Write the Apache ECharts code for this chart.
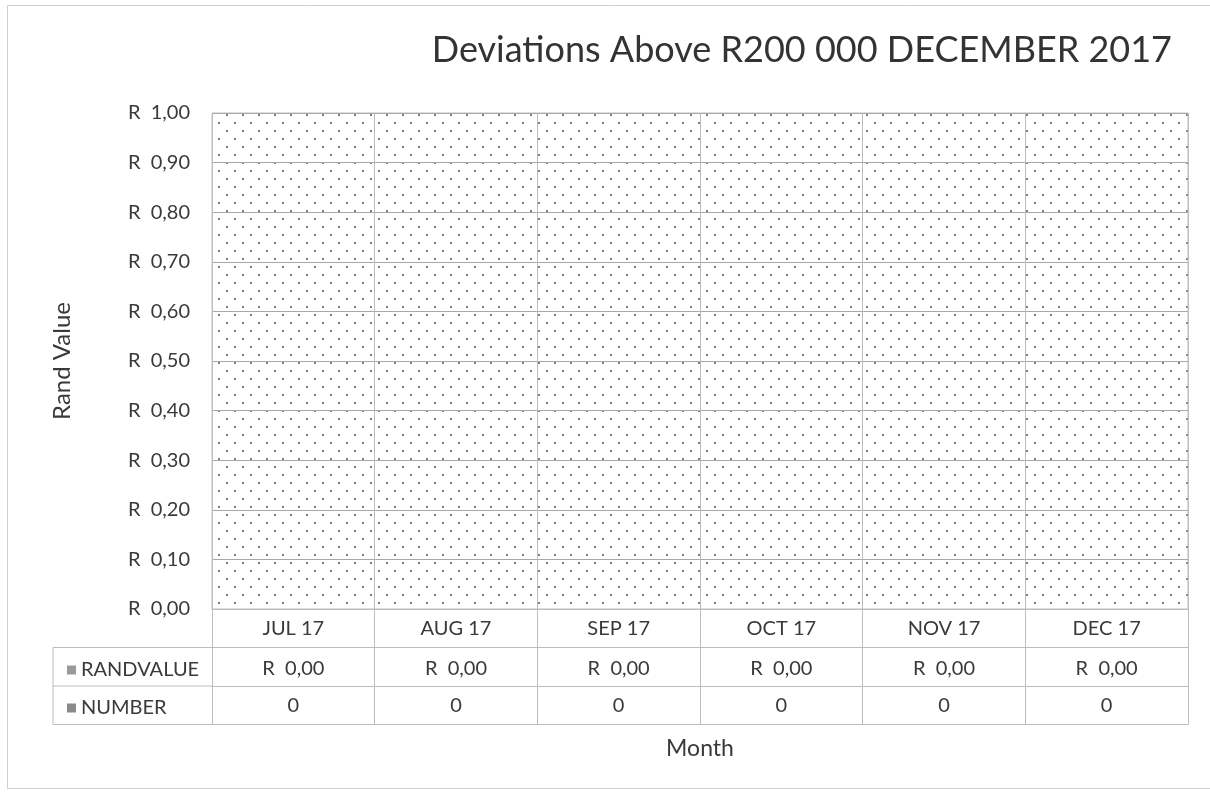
<!DOCTYPE html>
<html>
<head>
<meta charset="utf-8">
<title>Deviations Above R200 000 DECEMBER 2017</title>
<script src="https://cdn.jsdelivr.net/npm/echarts@6/dist/echarts.min.js"></script>
<style>
  html, body {
    margin: 0;
    padding: 0;
    background: #ffffff;
  }
  #chart {
    width: 1210px;
    height: 792px;
  }
</style>
</head>
<body>
<div id="chart"></div>
<script>
  // data
  const months = ['JUL 17', 'AUG 17', 'SEP 17', 'OCT 17', 'NOV 17', 'DEC 17'];
  const randValue = [0, 0, 0, 0, 0, 0];
  const number = [0, 0, 0, 0, 0, 0];

  const FONT = 'Lato';
  const TXT = '#3a3a3a';
  const LINE = '#bdbdbd';

  function rand(v) {
    return 'R  ' + v.toFixed(2).replace('.', ',');
  }

  // dotted fill of the plot area
  function dotPattern() {
    const c = document.createElement('canvas');
    c.width = 16;
    c.height = 16;
    const ctx = c.getContext('2d');
    ctx.fillStyle = '#ffffff';
    ctx.fillRect(0, 0, 16, 16);
    ctx.fillStyle = '#555555';
    ctx.beginPath();
    ctx.arc(3, 3, 1, 0, Math.PI * 2);
    ctx.arc(11, 11, 1, 0, Math.PI * 2);
    ctx.fill();
    return c;
  }

  const myChart = echarts.init(document.getElementById('chart'));

  const plotTop = 113, plotBottom = 609, plotLeft = 212, plotRight = 1188;
  const rowH = 38.5;

  myChart.setOption({
    backgroundColor: '#ffffff',
    animation: false,
    title: {
      text: 'Deviations Above R200 000 DECEMBER 2017',
      right: 33,
      top: 27,
      textStyle: {
        fontFamily: FONT,
        fontWeight: 'normal',
        fontSize: 36,
        color: '#333333'
      }
    },
    legend: {
      orient: 'vertical',
      left: 62,
      top: 655,
      itemWidth: 9,
      itemHeight: 9,
      itemGap: 18,
      icon: 'rect',
      textStyle: {
        fontFamily: FONT,
        fontSize: 20,
        lineHeight: 20,
        color: TXT
      },
      data: ['RANDVALUE', 'NUMBER']
    },
    grid: {
      left: plotLeft,
      right: 1210 - plotRight,
      top: plotTop,
      bottom: 792 - plotBottom,
      show: true,
      borderColor: LINE,
      borderWidth: 1,
      backgroundColor: {image: dotPattern(), repeat: 'repeat'}
    },
    xAxis: [{
      type: 'category',
      data: months,
      position: 'bottom',
      axisLine: {lineStyle: {color: LINE}},
      axisTick: {show: true, length: rowH * 3, interval: 0, lineStyle: {color: LINE}},
      splitLine: {show: true, interval: 0, lineStyle: {color: LINE}},
      axisLabel: {
        interval: 0,
        margin: 10,
        fontFamily: FONT,
        fontSize: 20,
        color: TXT
      }
    }, {
      type: 'category',
      data: months,
      position: 'bottom',
      offset: rowH,
      axisLine: {lineStyle: {color: LINE}},
      axisTick: {show: false},
      axisLabel: {
        interval: 0,
        margin: 11,
        fontFamily: FONT,
        fontSize: 20,
        color: TXT,
        formatter: function (v, i) {
          return rand(randValue[i]);
        }
      }
    }, {
      type: 'category',
      data: months,
      position: 'bottom',
      offset: rowH * 2,
      axisLine: {lineStyle: {color: LINE}},
      axisTick: {show: false},
      axisLabel: {
        interval: 0,
        margin: 10,
        fontFamily: FONT,
        fontSize: 20,
        color: TXT,
        formatter: function (v, i) {
          return String(number[i]);
        }
      }
    }, {
      type: 'category',
      data: months,
      position: 'bottom',
      offset: rowH * 3,
      axisLine: {lineStyle: {color: LINE}},
      axisTick: {show: false},
      axisLabel: {show: false},
      name: 'Month',
      nameLocation: 'middle',
      nameGap: 13,
      nameTextStyle: {
        fontFamily: FONT,
        fontSize: 23,
        color: TXT
      }
    }],
    yAxis: {
      type: 'value',
      min: 0,
      max: 1,
      interval: 0.1,
      axisLine: {show: false},
      axisTick: {show: false},
      splitLine: {lineStyle: {color: '#a8a8a8'}},
      axisLabel: {
        margin: 22,
        fontFamily: FONT,
        fontSize: 20,
        color: TXT,
        formatter: rand
      },
      name: 'Rand Value',
      nameLocation: 'middle',
      nameGap: 138,
      nameTextStyle: {
        fontFamily: FONT,
        fontSize: 24,
        color: TXT
      }
    },
    graphic: [
      // outer chart border
      {type: 'rect', shape: {x: 7.5, y: 5.5, width: 1220, height: 783}, style: {fill: null, stroke: '#d0d0d0', lineWidth: 1}, silent: true},
      // legend column of the data table
      {type: 'line', shape: {x1: 53, y1: plotBottom + rowH, x2: plotLeft, y2: plotBottom + rowH}, style: {stroke: LINE, lineWidth: 1}},
      {type: 'line', shape: {x1: 53, y1: plotBottom + rowH * 2, x2: plotLeft, y2: plotBottom + rowH * 2}, style: {stroke: LINE, lineWidth: 1}},
      {type: 'line', shape: {x1: 53, y1: plotBottom + rowH * 3, x2: plotLeft, y2: plotBottom + rowH * 3}, style: {stroke: LINE, lineWidth: 1}},
      {type: 'line', shape: {x1: 53, y1: plotBottom + rowH, x2: 53, y2: plotBottom + rowH * 3}, style: {stroke: LINE, lineWidth: 1}}
    ],
    series: [{
      name: 'RANDVALUE',
      type: 'bar',
      data: randValue,
      itemStyle: {color: '#9a9a9a'}
    }, {
      name: 'NUMBER',
      type: 'bar',
      data: number,
      itemStyle: {color: '#8a8a8a'}
    }]
  });
</script>
</body>
</html>
